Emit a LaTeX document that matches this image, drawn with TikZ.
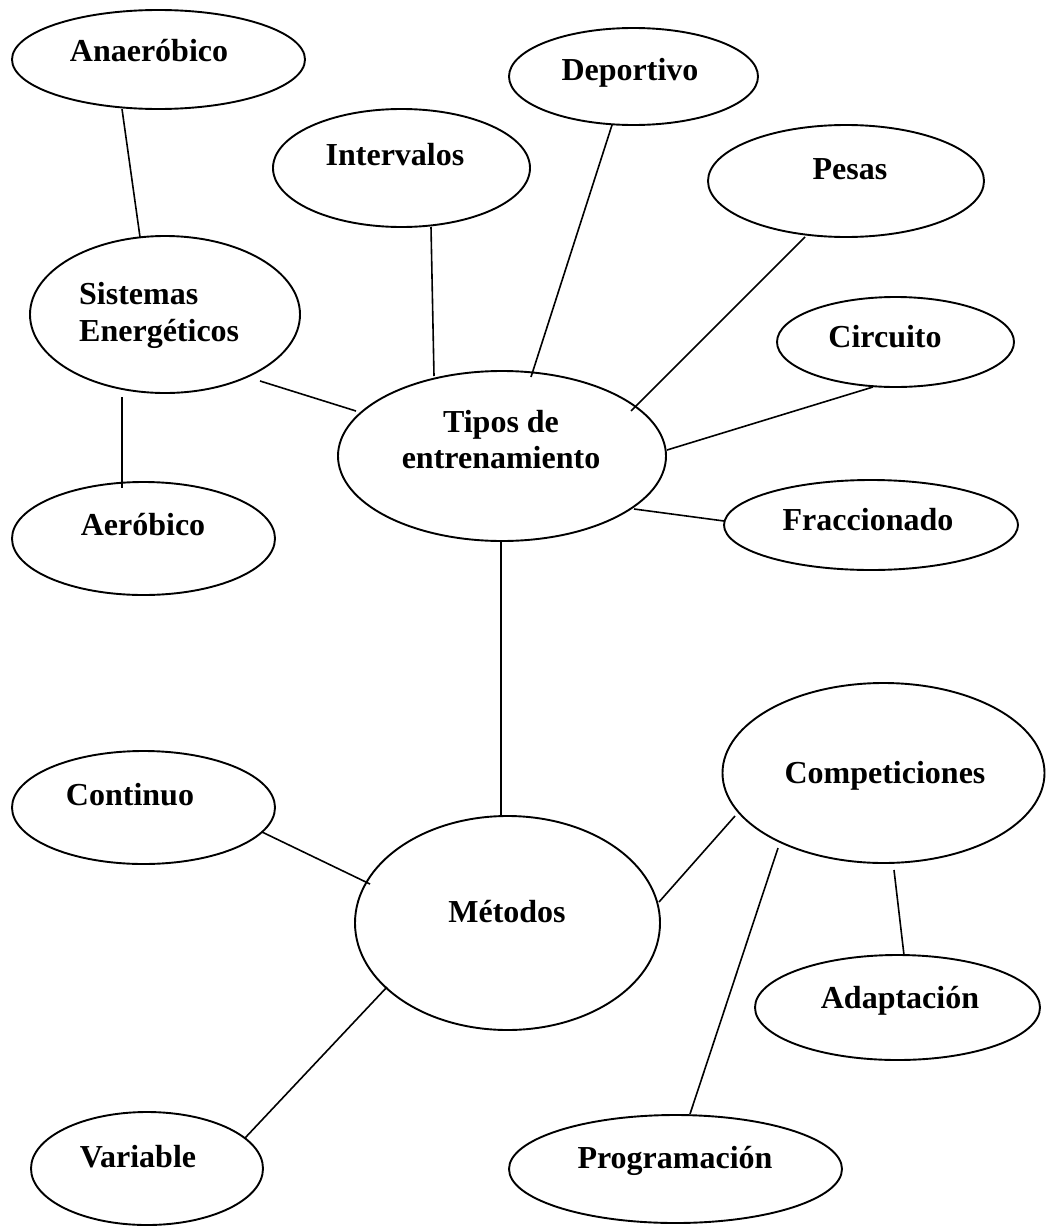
\documentclass[tikz,border=0pt]{standalone}
\usepackage{fontspec}
\setmainfont{Liberation Serif}
\usetikzlibrary{shapes.geometric}
\tikzset{
  bubble/.style={ellipse, draw, line width=1.9pt, inner sep=0pt},
  word/.style={font=\fontsize{32}{36}\selectfont\bfseries, inner sep=0pt, anchor=base},
  wordleft/.style={word, anchor=base west},
  link/.style={line width=1.6pt},
}
\begin{document}
\begin{tikzpicture}[x=1pt,y=-1pt]
  % page frame
  \fill[white] (0,0) rectangle (1046,1226);
  \useasboundingbox (0,0) rectangle (1046,1226);

  % ellipses
  \node[bubble, minimum width=293pt, minimum height=99pt]  (anaer) at (158.5,59.5) {};
  \node[bubble, minimum width=249pt, minimum height=97pt]  (depor) at (633.5,76.5) {};
  \node[bubble, minimum width=257pt, minimum height=118pt] (inter) at (401.5,168) {};
  \node[bubble, minimum width=276pt, minimum height=112pt] (pesas) at (846,181) {};
  \node[bubble, minimum width=270pt, minimum height=157pt] (siste) at (165,314.5) {};
  \node[bubble, minimum width=237pt, minimum height=90pt]  (circu) at (895.5,342) {};
  \node[bubble, minimum width=328pt, minimum height=170pt] (tipos) at (502,456) {};
  \node[bubble, minimum width=263pt, minimum height=113pt] (aerob) at (143.5,538.5) {};
  \node[bubble, minimum width=294pt, minimum height=90pt]  (fracc) at (871,525) {};
  \node[bubble, minimum width=263pt, minimum height=113pt] (conti) at (143.5,807.5) {};
  \node[bubble, minimum width=322pt, minimum height=180pt] (compe) at (883.5,773) {};
  \node[bubble, minimum width=305pt, minimum height=214pt] (metod) at (507.5,923) {};
  \node[bubble, minimum width=285pt, minimum height=105pt] (adapt) at (897.5,1007.5) {};
  \node[bubble, minimum width=232pt, minimum height=113pt] (varia) at (147,1168.5) {};
  \node[bubble, minimum width=333pt, minimum height=108pt] (progr) at (675.5,1169) {};

  % labels
  \node[word] (anaer-t) at (149,61) {Anaeróbico};
  \node[word] (depor-t) at (630,80) {Deportivo};
  \node[word] (inter-t) at (395,165) {Intervalos};
  \node[word] (pesas-t) at (850,179) {Pesas};
  \node[wordleft] (siste-t1) at (79,304) {Sistemas};
  \node[wordleft] (siste-t2) at (79,341) {Energéticos};
  \node[word] (circu-t) at (885,347) {Circuito};
  \node[word] (tipos-t1) at (501,432) {Tipos de};
  \node[word] (tipos-t2) at (501,468) {entrenamiento};
  \node[word] (aerob-t) at (143,535) {Aeróbico};
  \node[word] (fracc-t) at (868,530) {Fraccionado};
  \node[word] (conti-t) at (130,805) {Continuo};
  \node[word] (compe-t) at (885,783) {Competiciones};
  \node[word] (metod-t) at (507,922) {Métodos};
  \node[word] (adapt-t) at (900,1008) {Adaptación};
  \node[word] (varia-t) at (138,1167) {Variable};
  \node[word] (progr-t) at (675,1168) {Programación};

  % connector ends
  \coordinate (anaer-o) at (122,109);  \coordinate (siste-a) at (140,237);
  \coordinate (siste-b) at (122,397);  \coordinate (aerob-i) at (122,488);
  \coordinate (siste-c) at (260,381);  \coordinate (tipos-a) at (356,411);
  \coordinate (inter-o) at (431,227);  \coordinate (tipos-b) at (434,376);
  \coordinate (depor-o) at (612,125);  \coordinate (tipos-c) at (531,377);
  \coordinate (pesas-o) at (805,237);  \coordinate (tipos-d) at (631,411);
  \coordinate (circu-o) at (873,387);  \coordinate (tipos-e) at (667,450);
  \coordinate (fracc-i) at (724,521);  \coordinate (tipos-f) at (634,509);
  \coordinate (tipos-g) at (501,541);  \coordinate (metod-a) at (501,816);
  \coordinate (conti-o) at (262,832);  \coordinate (metod-b) at (370,884);
  \coordinate (metod-c) at (387,987);  \coordinate (varia-i) at (245,1138);
  \coordinate (metod-d) at (659,902);  \coordinate (compe-a) at (735,816);
  \coordinate (compe-b) at (778,848);  \coordinate (progr-i) at (690,1114);
  \coordinate (compe-c) at (894,870);  \coordinate (adapt-i) at (904,955);

  % connectors
  \draw[link] (anaer-o) -- (siste-a);
  \draw[link] (siste-b) -- (aerob-i);
  \draw[link] (siste-c) -- (tipos-a);
  \draw[link] (inter-o) -- (tipos-b);
  \draw[link] (depor-o) -- (tipos-c);
  \draw[link] (pesas-o) -- (tipos-d);
  \draw[link] (circu-o) -- (tipos-e);
  \draw[link] (tipos-f) -- (fracc-i);
  \draw[link] (tipos-g) -- (metod-a);
  \draw[link] (conti-o) -- (metod-b);
  \draw[link] (metod-c) -- (varia-i);
  \draw[link] (metod-d) -- (compe-a);
  \draw[link] (compe-b) -- (progr-i);
  \draw[link] (compe-c) -- (adapt-i);
\end{tikzpicture}
\end{document}
